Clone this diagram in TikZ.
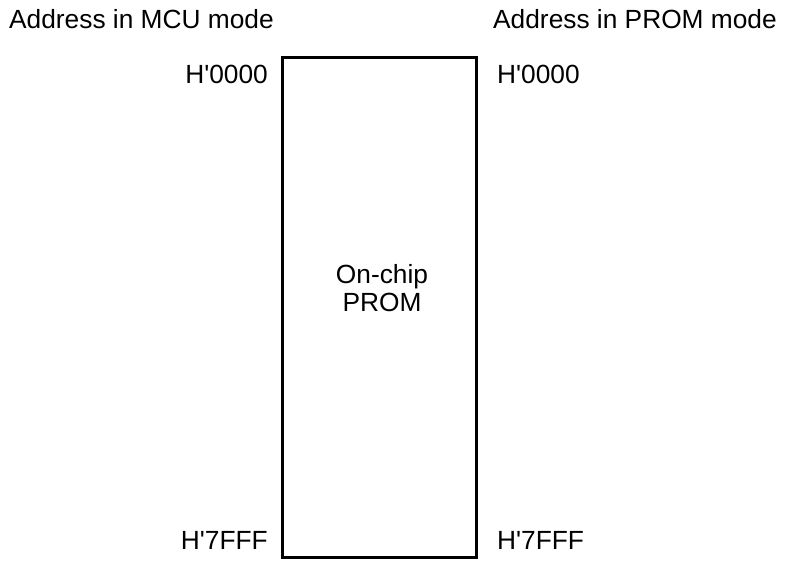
\documentclass[tikz,border=0pt]{standalone}
\usepackage{fontspec}
\setmainfont{Liberation Sans}
\usetikzlibrary{positioning}
\tikzset{
  memblock/.style={rectangle, draw=black, line width=2.5pt, fill=white,
                   minimum width=194pt, minimum height=500pt, inner sep=0pt},
  heading/.style={font=\fontsize{26.3}{29}\selectfont, inner sep=0pt},
  addr/.style={font=\fontsize{26.3}{29}\selectfont, inner sep=0pt},
  blocktext/.style={font=\fontsize{26.3}{28}\selectfont, align=center, inner sep=0pt},
}

\begin{document}
\begin{tikzpicture}[x=1pt, y=-1pt]
  \useasboundingbox (0,0) rectangle (785,560);

  % Memory block
  \node[memblock] (prom) at (379.5,307.5) {};
  \node[blocktext] (promtext) at (382,288) {On-chip\\PROM};

  % Headings
  \node[heading, anchor=base west] (mcuhead) at (9,28) {Address in MCU mode};
  \node[heading, anchor=base west] (promhead) at (493,28) {Address in PROM mode};

  % Addresses, MCU side
  \node[addr, anchor=base east] (mcutop) at (268,83) {H\textquotesingle 0000};
  \node[addr, anchor=base east] (mcubot) at (268,549) {H\textquotesingle 7FFF};

  % Addresses, PROM side
  \node[addr, anchor=base west] (promtop) at (497,83) {H\textquotesingle 0000};
  \node[addr, anchor=base west] (prombot) at (497,549) {H\textquotesingle 7FFF};

\end{tikzpicture}
\end{document}
